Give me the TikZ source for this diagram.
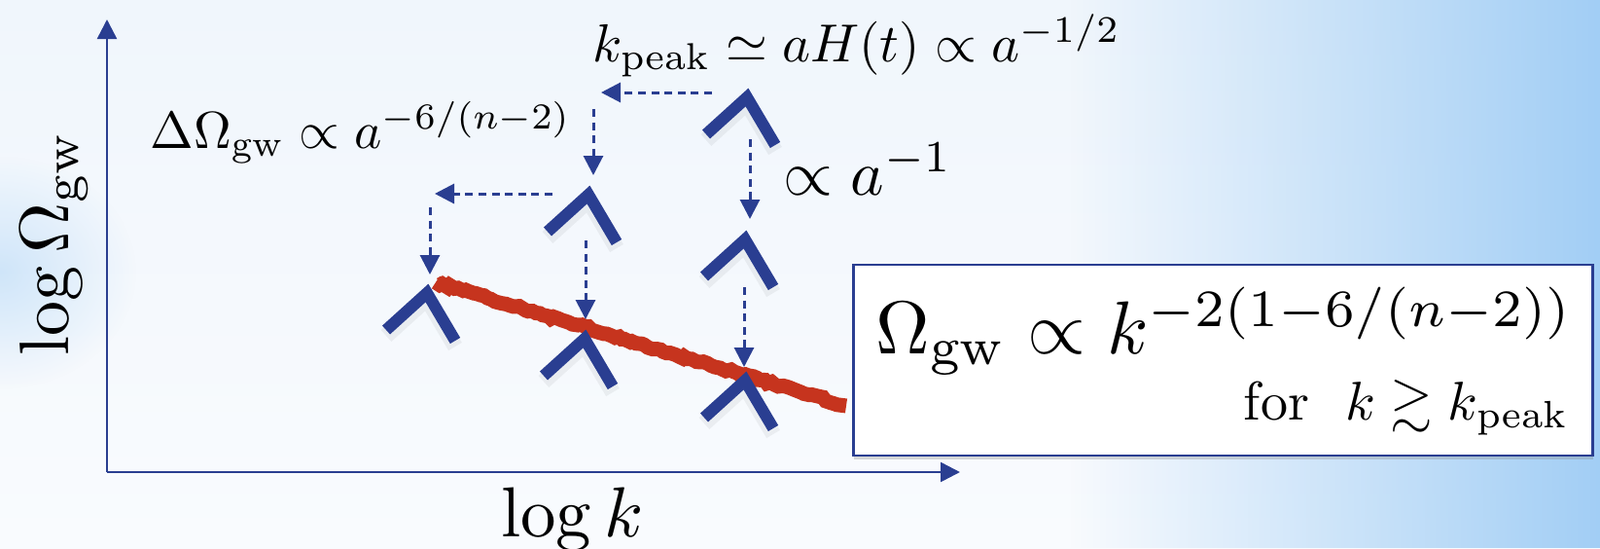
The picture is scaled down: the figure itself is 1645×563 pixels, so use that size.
\documentclass[tikz,border=0pt]{standalone}
\usepackage{amssymb}
\usepackage{graphicx}
\usepackage{tikz}
\usetikzlibrary{arrows.meta,calc,decorations.pathmorphing,fadings,shadows}
\definecolor{axblue}{RGB}{42,62,145}
\definecolor{brush}{RGB}{198,52,30}
\definecolor{bgtop}{RGB}{240,246,252}
\definecolor{bgmid}{RGB}{226,239,251}
\definecolor{bgbot}{RGB}{249,251,254}
\definecolor{bgsky}{RGB}{162,206,245}
\newcommand{\enlarge}[2]{\scalebox{#1}{#2}}
\tikzfading[name=blob,inner color=transparent!55,outer color=transparent!100]

\begin{document}
\begin{tikzpicture}[x=0.5pt,y=-0.5pt,>={Triangle[length=10pt,width=10pt]},
  axis/.style={axblue,line width=1.3pt},
  chev/.style={axblue,line width=6pt,line cap=butt,line join=miter},
  chevshade/.style={black,opacity=0.05,line width=8pt},
  hop/.style={axblue,line width=1.5pt,dash pattern=on 4pt off 2.8pt,->},
  lbl/.style={inner sep=0pt,anchor=base west}]
  % background
  \useasboundingbox (0,0) rectangle (1645,563);
  \shade[top color=bgtop,middle color=bgmid,bottom color=bgbot] (0,0) rectangle (1645,563);
  \fill[bgsky,path fading=west] (1100,0) rectangle (1645,563);
  \fill[bgsky,path fading=blob] (0,280) ellipse (140 and 120);
  % axes
  \coordinate (O) at (110,485);
  \coordinate (ytop) at (110,20);
  \coordinate (xend) at (987,485);
  \draw[axis,->] (O) -- (ytop);
  \draw[axis,->] (O) -- (xend);
  \node[lbl] (xlab) at (515,551) {\enlarge{3.64}{$\log k$}};
  \node[lbl,rotate=90] (ylab) at (70,366) {\enlarge{3.6}{$\log\Omega_{\rm gw}$}};
  % spectra peaks
  \coordinate (c1) at (770,92);
  \coordinate (c2) at (607,192);
  \coordinate (c3) at (768,238);
  \coordinate (c4) at (441,293);
  \coordinate (c5) at (603,340);
  \coordinate (c6) at (768,383);
  \draw[brush,line width=7.5pt,decorate,decoration={random steps,segment length=2pt,amplitude=0.8pt}]
    ($(c4)+(7,-3)$) -- ($(c6)+(102,34)$);
  \foreach \c in {c1,c2,c3,c4,c5,c6} {
    \draw[chevshade] ($(\c)+(-44,52)$) -- ($(\c)+(-2,14)$) -- ($(\c)+(27,63)$);
    \draw[chev] ($(\c)+(-44,46)$) -- ($(\c)+(-2,8)$) -- ($(\c)+(27,57)$);
  }
  % redshift hops
  \draw[hop] ($(c1)+(-38,3)$) -- ($(c1)+(-152,3)$);
  \draw[hop] ($(c2)+(3,-80)$) -- ($(c2)+(3,-12)$);
  \draw[hop] ($(c1)+(1,51)$) -- ($(c3)+(3,-13)$);
  \draw[hop] ($(c2)+(-39,7)$) -- ($(c2)+(-160,7)$);
  \draw[hop] ($(c4)+(1,-80)$) -- ($(c4)+(1,-11)$);
  \draw[hop] ($(c2)+(-5,55)$) -- ($(c5)+(-1,-12)$);
  \draw[hop] ($(c3)+(-3,57)$) -- ($(c6)+(-3,-6)$);
  % labels
  \node[lbl] (kpk) at (609,63) {\enlarge{2.75}{$k_{\rm peak}\simeq aH(t)\propto a^{-1/2}$}};
  \node[lbl] (dom) at (154,152) {\enlarge{2.68}{$\Delta\Omega_{\rm gw}\propto a^{-6/(n-2)}$}};
  \node[lbl] (pa1) at (805,200) {\enlarge{3.27}{$\propto a^{-1}$}};
  \node[draw=axblue,line width=1.3pt,fill=white,minimum width=380pt,minimum height=98pt,
    drop shadow={shadow xshift=0pt,shadow yshift=-2pt,opacity=0.3}] (eqbox) at (1257.5,370) {};
  \node[lbl] (law) at (900,363) {\enlarge{3.85}{$\Omega_{\rm gw}\propto k^{-2(1-6/(n-2))}$}};
  \node[inner sep=0pt,anchor=base east] (cond) at (1613,431) {\enlarge{2.8}{for\ \ $k\gtrsim k_{\rm peak}$}};
\end{tikzpicture}
\end{document}
